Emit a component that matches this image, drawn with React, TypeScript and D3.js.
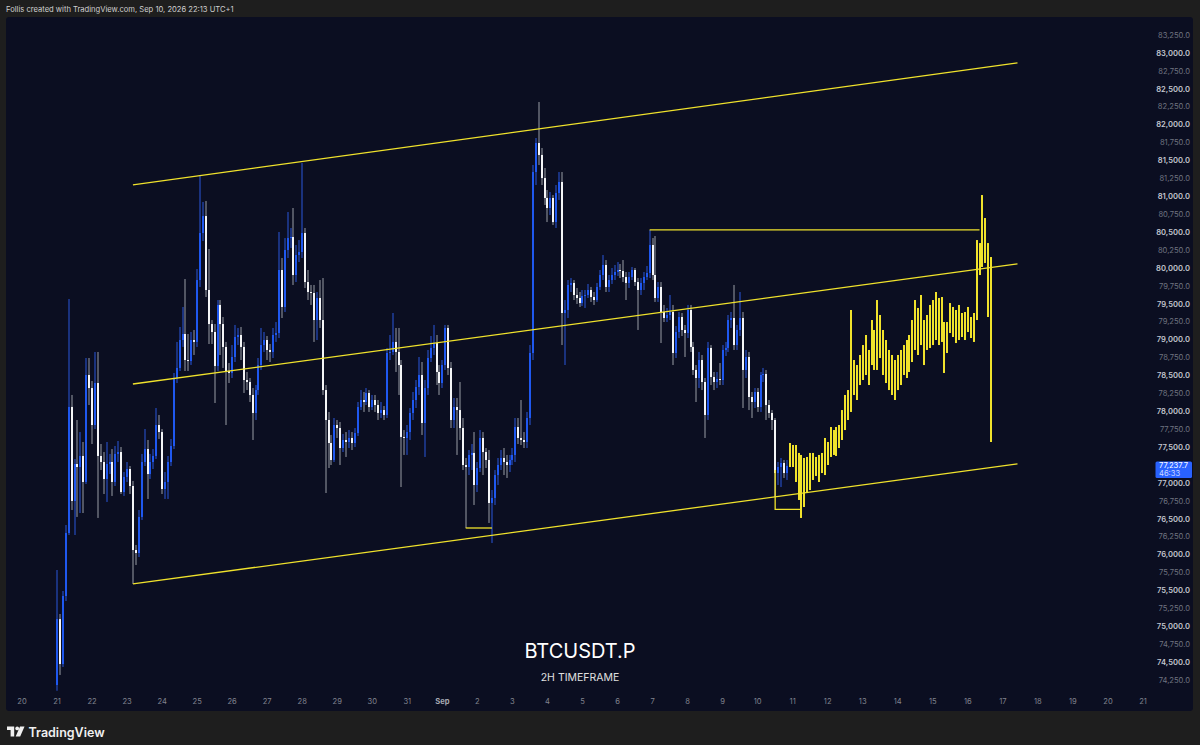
import React from "react";
import * as d3 from "d3";

const HOUR = 3600e3;
const startTime = Date.UTC(2026, 7, 21, 0);
const projStart = Date.UTC(2026, 8, 10, 22);
const firstOpen = 74180;

const closes = [75100,74473,75422,76301,78060,76748,77264,77222,77376,77013,
78506,78324,77808,78394,77376,77292,77055,77264,77292,77013,
77404,77431,76873,77083,77194,76957,76064,76022,76525,77292,
77473,77124,77292,77376,77808,77710,76915,77013,77292,77515,
78464,78604,78994,79078,78715,78701,78994,78967,79831,80487,
80724,79692,79217,79106,78631,79483,79217,78897,78562,78534,
78757,79036,79064,78897,78436,78408,78227,77976,78296,78645,
78924,78994,78855,78827,79064,79092,79971,79455,80250,80417,
80431,79901,80180,80222,80487,79803,79664,79650,79273,79580,
79273,78296,77878,77557,77320,77808,77766,77487,77599,77571,
77627,77557,77696,78059,78157,78129,78255,78059,78157,78087,
77976,78017,77948,78813,78827,78967,78827,78645,77641,77627,
77710,77976,78157,78338,78506,77836,78324,78743,78883,78952,
78548,78394,78645,79162,78603,77878,78059,78017,77766,77250,
77222,77390,77418,76971,77208,77627,77431,77320,76720,76790,
77110,77250,77348,77292,77250,77320,77390,77780,77627,77599,
77571,77906,78813,81338,81743,81576,81254,80976,80836,80976,
80640,81045,81199,79371,79413,79762,79790,79622,79580,79510,
79608,79622,79692,79594,79552,79734,79901,80041,79734,79831,
79901,79943,79971,79957,79873,79790,79873,79971,79803,79692,
79790,79873,79929,80320,79901,79580,79734,79385,79301,79343,
79385,78813,79106,79315,79134,79092,79413,78897,78576,78464,
78715,78408,77948,78883,78478,78408,78450,78436,78855,78883,
79273,79301,78924,79134,79301,78576,78757,78199,78129,78269,
78059,78506,78520,78087,77976,77878,77138,77222,77278,77138,
77237.7];

const highs = [75785,75171,75492,76413,79566,78227,77334,77878,77710,77571,
78743,78743,78422,78827,78827,77543,77431,77571,77404,77473,
77515,77585,77501,77152,77292,77236,77027,76134,76622,77404,
77752,77599,77404,77473,78045,77948,77752,77152,77376,77613,
78534,78967,79176,79455,79845,79078,79106,79134,79985,81296,
80920,80934,80264,79273,79217,79552,79552,79315,78967,78673,
78924,79204,79162,79176,78967,78548,78464,78324,78366,78743,
79162,79106,79050,78938,79162,79245,80501,80138,80417,80780,
80557,80836,80320,80389,81464,80557,79971,79762,79762,79664,
79831,79859,78366,77990,77669,77906,77878,77850,77683,77710,
77738,77710,77766,78129,78296,78269,78324,78296,78227,78227,
78157,78129,78073,78883,79064,79371,79162,79162,78715,77738,
77808,78045,78269,78436,78757,78687,78436,78855,79050,79204,
79064,78645,78715,79204,79204,78687,78185,78185,78408,77906,
77348,77459,77543,77710,77292,77738,77710,77487,77459,76901,
77180,77348,77459,77487,77390,77390,77487,77906,77906,78157,
77710,77990,78924,81436,81813,82315,81673,81394,81087,81059,
81017,81157,81338,81338,79552,79831,79859,79831,79720,79664,
79692,79692,79776,79734,79664,79790,79971,80180,80110,79901,
79999,80041,80082,80055,80110,79943,79943,80013,79999,79859,
79859,79943,80027,80529,80417,80445,79803,79803,79483,79441,
79622,79483,79189,79385,79371,79204,79483,79483,78967,78645,
78827,78785,78464,78967,78924,78548,78548,78673,78924,78967,
79343,79385,79762,79204,79664,79385,78855,78827,78269,78324,
78324,78548,78604,78576,78157,78017,77906,77292,77348,77320,
77320];

const lows = [74100,74320,74432,75352,76273,76622,76273,76525,76580,76580,
76985,78087,77543,77752,76511,77180,76845,76734,77124,76818,
76957,77292,76845,76818,77013,76845,75590,75855,75966,76483,
77236,76776,77055,77194,77334,77613,76845,76776,76776,77236,
77473,78394,78562,78897,78562,78562,78646,78785,78897,79734,
80375,79594,78938,78938,78115,78562,78785,78604,77808,78394,
78464,78687,78924,78715,78255,78296,78129,77599,77878,78227,
78576,78827,78715,78687,78743,78967,79022,79301,79385,80138,
80278,79762,79803,80082,80138,79720,79552,79483,78967,78994,
79162,78227,76859,77208,77250,77292,77627,77250,77431,77362,
77487,77459,77501,77655,78017,77990,78087,77990,78017,77990,
77878,77906,77878,77906,78715,78785,78548,78227,76943,77390,
77390,77599,77878,78045,78227,77669,77362,78227,78687,78785,
78366,78227,78324,78576,78506,77766,77766,77390,77599,77180,
76371,77110,77180,76692,76873,77152,77110,77208,76441,76162,
76692,76971,77180,77110,77069,77152,77250,77292,77543,77529,
77487,77487,77808,78715,81157,81436,81157,80878,80640,80738,
80599,80557,80948,78924,78645,79301,79664,79552,79497,79455,
79469,79441,79580,79525,79483,79525,79692,79831,79664,79664,
79776,79831,79887,79859,79803,79552,79720,79831,79748,79134,
79622,79692,79831,79859,79831,79525,79525,78952,79245,79245,
79273,78645,78743,79022,79050,78757,79022,78827,78506,78129,
78324,78296,77627,77878,78366,78296,78324,78366,78366,78771,
78827,79162,78855,78855,79050,78045,78464,78017,77906,78045,
77990,77990,78408,77878,77906,77738,76803,76971,76943,77069,
77041];

const projHigh = [77557,77529,77529,77418,77390,77348,77362,77418,77418,77362,
77390,77418,77627,77571,77780,77738,77780,77808,78017,78227,
78296,79413,78715,78645,78785,78924,79064,78855,79273,79134,
79552,79343,79134,78994,78855,78785,78715,78785,78855,78924,
78994,79064,79273,79552,79441,79622,79273,79343,79483,79552,
79664,79580,79594,79245,79245,79510,79455,79413,79483,79371,
79385,79455,79315,79371,80389,80347,81017,80696,80347,80152];

const projLow = [77222,77222,77013,76762,76511,76664,76859,76901,77041,77097,
77013,77138,77110,77250,77362,77390,77376,77487,77599,77738,
77878,77990,78227,78157,78366,78436,78506,78366,78645,78576,
78576,78743,78506,78394,78296,78227,78157,78296,78366,78506,
78464,78548,78687,78855,78785,78924,78645,78855,78883,78924,
78994,78924,78967,78534,78813,79092,79036,78952,78994,79036,
78994,79106,79022,78967,79273,79901,80013,80069,79315,77571];

const priceTicks = [74250,74500,74750,75000,75250,75500,75750,76000,76250,76500,
76750,77000,77250,77500,77750,78000,78250,78500,78750,79000,79250,79500,79750,
80000,80250,80500,80750,81000,81250,81500,81750,82000,82250,82500,82750,83000,83250];

const lastPrice = 77237.7;
const countdown = "46:33";
const headerText = "Follis created with TradingView.com, Sep 10, 2026 22:13 UTC+1";
const symbolText = "BTCUSDT.P";
const tfText = "2H TIMEFRAME";

const channelLines = [
  { t1: Date.UTC(2026, 7, 23, 4), p1: 81160, t2: Date.UTC(2026, 8, 17, 10), p2: 82860 },
  { t1: Date.UTC(2026, 7, 23, 4), p1: 78380, t2: Date.UTC(2026, 8, 17, 10), p2: 80055 },
  { t1: Date.UTC(2026, 7, 23, 4), p1: 75590, t2: Date.UTC(2026, 8, 17, 10), p2: 77265 },
];
const resistance = { t1: Date.UTC(2026, 8, 6, 22), t2: Date.UTC(2026, 8, 16, 8), p: 80530 };
const doubleBottom = { t1: Date.UTC(2026, 8, 1, 16), t2: Date.UTC(2026, 8, 2, 10), p: 76371 };
const bottomBox = { t1: Date.UTC(2026, 8, 10, 12), t2: Date.UTC(2026, 8, 11, 6), pTop: 77180, pBot: 76630 };

const YEL = "#f0e22c";
const UP = "#1f58f0";
const UPW = "#2a56dc";
const DN = "#f4f5f7";
const DNW = "#9a9da6";
const FONT = "Inter, 'Noto Sans', sans-serif";

export default function App() {
  const x = d3.scaleUtc().domain([Date.UTC(2026, 7, 21), Date.UTC(2026, 8, 21)]).range([57, 1143]);
  const y = d3.scaleLinear().domain([74250, 83250]).range([680, 35]);
  const days = d3.utcDay.range(Date.UTC(2026, 7, 20), Date.UTC(2026, 8, 22));

  const candles = closes.map((c, i) => {
    const o = i === 0 ? firstOpen : closes[i - 1];
    const h = Math.max(highs[i], o, c);
    const l = Math.min(lows[i], o, c);
    return { t: startTime + i * 2 * HOUR, o, h, l, c };
  });

  const ly = y(lastPrice);

  return (
    <svg width={1200} height={745} style={{ position: "absolute", left: 0, top: 0, display: "block" }}>
      <rect x={0} y={0} width={1200} height={745} fill="#1e1e1e" />
      <text x={6} y={12} fontFamily={FONT} fontSize={7.6} fill="#cfcfcf">{headerText}</text>
      <rect x={6} y={17} width={1187} height={694} rx={3} fill="#0b0e21" />

      {priceTicks.map((p) => {
        const major = p % 500 === 0;
        return (
          <text key={p} x={1190} y={y(p) + 2.8} textAnchor="end" fontFamily={FONT} fontSize={7.6}
            fontWeight={major ? 600 : 400} fill={major ? "#c3c6cf" : "#6f7380"}>
            {d3.format(",.1f")(p)}
          </text>
        );
      })}

      {days.map((d) => {
        const isMonth = d.getUTCDate() === 1;
        return (
          <text key={+d} x={x(d)} y={704} textAnchor="middle" fontFamily={FONT} fontSize={7.6}
            fontWeight={isMonth ? 700 : 400} fill={isMonth ? "#a7aab3" : "#80838e"}>
            {isMonth ? "Sep" : String(d.getUTCDate())}
          </text>
        );
      })}

      <g>
        {candles.map((k, i) => {
          const cx = Math.round(x(k.t));
          const up = k.c >= k.o;
          return (
            <line key={"w" + i} x1={cx} x2={cx} y1={y(k.h)} y2={y(k.l)} stroke={up ? UPW : DNW} strokeWidth={1} />
          );
        })}
        {candles.map((k, i) => {
          const cx = Math.round(x(k.t));
          const up = k.c >= k.o;
          const top = y(Math.max(k.o, k.c));
          const hgt = Math.max(1, Math.abs(y(k.o) - y(k.c)));
          return <rect key={"b" + i} x={cx - 1} y={top} width={2} height={hgt} fill={up ? UP : DN} />;
        })}
      </g>

      <g stroke={YEL} strokeWidth={1.3} fill="none">
        {channelLines.map((l, i) => (
          <line key={i} x1={x(l.t1)} y1={y(l.p1)} x2={x(l.t2)} y2={y(l.p2)} />
        ))}
        <line x1={x(resistance.t1)} x2={x(resistance.t2)} y1={y(resistance.p)} y2={y(resistance.p)} />
        <line x1={x(doubleBottom.t1)} x2={x(doubleBottom.t2)} y1={y(doubleBottom.p)} y2={y(doubleBottom.p)} />
        <polyline points={`${x(bottomBox.t1)},${y(bottomBox.pTop)} ${x(bottomBox.t1)},${y(bottomBox.pBot)} ${x(bottomBox.t2)},${y(bottomBox.pBot)}`} />
      </g>

      <g fill={YEL}>
        {projHigh.map((h, j) => {
          const cx = Math.round(x(projStart + j * 2 * HOUR));
          return <rect key={j} x={cx - 1} y={y(h)} width={2} height={y(projLow[j]) - y(h)} />;
        })}
      </g>

      <rect x={1155.5} y={ly - 4.5} width={36.5} height={16.5} rx={1.5} fill="#2962ff" />
      <text x={1159} y={ly + 2.6} fontFamily={FONT} fontSize={7.6} fill="#ffffff">{d3.format(",.1f")(lastPrice)}</text>
      <text x={1159} y={ly + 10} fontFamily={FONT} fontSize={7.6} fill="#c9d6ff">{countdown}</text>

      <text x={580} y={658} textAnchor="middle" fontFamily={FONT} fontSize={20} fill="#ffffff">{symbolText}</text>
      <text x={580} y={681} textAnchor="middle" fontFamily={FONT} fontSize={10.5} fill="#e0e0e0">{tfText}</text>

      <g transform="translate(7,726.5)" fill="#f0f0f0">
        <path d="M0 0 H7.2 V10 H3.6 V3.6 H0 Z" />
        <circle cx={10.2} cy={1.9} r={1.9} />
        <path d="M13 0 H17.5 L13.2 10 H8.7 Z" />
      </g>
      <text x={28.5} y={736.5} fontFamily={FONT} fontSize={12.5} fontWeight={600} fill="#f0f0f0">TradingView</text>
    </svg>
  );
}
